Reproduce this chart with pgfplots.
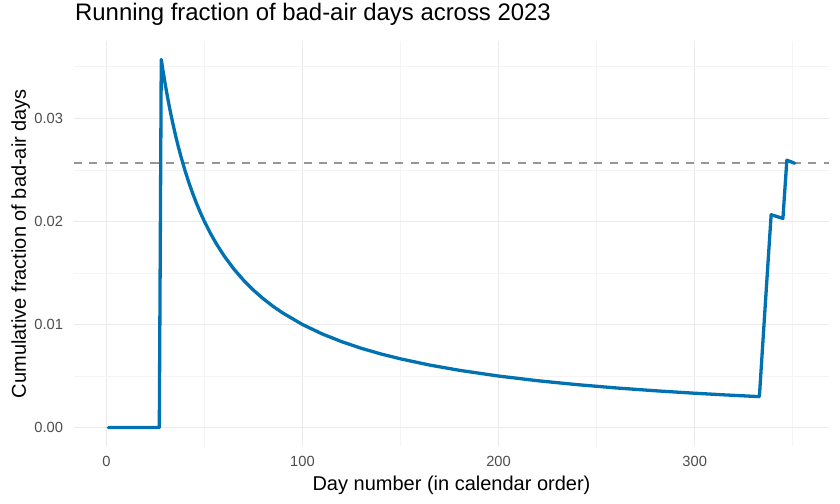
\documentclass[border=0pt]{standalone}
\usepackage{fontspec}
\setmainfont{Liberation Sans}
\usepackage{pgfplots}
\usepackage{pgfplotstable}
\pgfplotsset{compat=1.18}
\definecolor{lineblue}{RGB}{0,114,178}
\definecolor{gridmaj}{RGB}{235,235,235}
\definecolor{gridmin}{RGB}{244,244,244}
\definecolor{ticktext}{RGB}{77,77,77}
\definecolor{refgray}{RGB}{150,150,150}

\pgfplotstableread{
day frac
1 0
27 0
28 0.035714
29 0.034483
30 0.033333
31 0.032258
32 0.031250
33 0.030303
34 0.029412
35 0.028571
36 0.027778
37 0.027027
38 0.026316
40 0.025000
42 0.023810
44 0.022727
46 0.021739
48 0.020833
50 0.020000
53 0.018868
56 0.017857
60 0.016667
65 0.015385
70 0.014286
75 0.013333
80 0.012500
85 0.011765
90 0.011111
100 0.010000
110 0.009091
120 0.008333
130 0.007692
140 0.007143
150 0.006667
165 0.006061
180 0.005556
200 0.005000
220 0.004545
240 0.004167
260 0.003846
280 0.003571
300 0.003333
315 0.003175
333 0.003003
334 0.005988
335 0.008955
336 0.011905
337 0.014837
338 0.017751
339 0.020649
345 0.020290
346 0.023121
347 0.025937
351 0.025641
}\fracdata

\pgfplotstableread{
day frac
-16.5 0.025641
368.5 0.025641
}\refline

\begin{document}
\begin{tikzpicture}
\useasboundingbox (-74bp,-58bp) rectangle (766bp,446bp);
\begin{axis}[
  at={(0,0)}, anchor=south west,
  scale only axis, width=755bp, height=405bp,
  xmin=-16.5, xmax=368.5, ymin=-0.0017857, ymax=0.0375,
  axis line style={draw=none},
  major tick length=0pt, minor tick length=0pt,
  tick style={draw=none},
  xtick={0,100,200,300}, minor xtick={50,150,250,350},
  ytick={0,0.01,0.02,0.03}, minor ytick={0.005,0.015,0.025,0.035},
  grid=both,
  major grid style={draw=gridmaj, line width=1.1bp},
  minor grid style={draw=gridmin, line width=0.6bp},
  scaled y ticks=false, scaled x ticks=false,
  /pgf/number format/assume math mode=true,
  yticklabel style={/pgf/number format/fixed, /pgf/number format/fixed zerofill,
    /pgf/number format/precision=2, anchor=east, inner sep=0pt, xshift=-10.7bp,
    font=\fontsize{14.7bp}{17bp}\selectfont, text=ticktext},
  xticklabel style={anchor=base, inner sep=0pt, yshift=-20.7bp,
    font=\fontsize{14.7bp}{17bp}\selectfont, text=ticktext},
  xlabel={Day number (in calendar order)},
  ylabel={Cumulative fraction of bad-air days},
  title={Running fraction of bad-air days across 2023},
  xlabel style={at={(rel axis cs:0.5,-0.10864)}, anchor=base, inner sep=0pt,
    font=\fontsize{20bp}{24bp}\selectfont},
  ylabel style={at={(rel axis cs:-0.0636,0.5)}, anchor=base, inner sep=0pt,
    font=\fontsize{20bp}{24bp}\selectfont},
  title style={at={(rel axis cs:0.0013,1.037)}, anchor=base west, inner sep=0pt,
    yshift=0pt, font=\fontsize{23.9bp}{28bp}\selectfont},
]
\addplot[draw=refgray, line width=1.6bp, dash pattern=on 8bp off 7.3bp] table[x=day, y=frac] {\refline};
\addplot[draw=lineblue, line width=3.3bp, line join=round, line cap=round] table[x=day, y=frac] {\fracdata};
\end{axis}
\end{tikzpicture}
\end{document}
